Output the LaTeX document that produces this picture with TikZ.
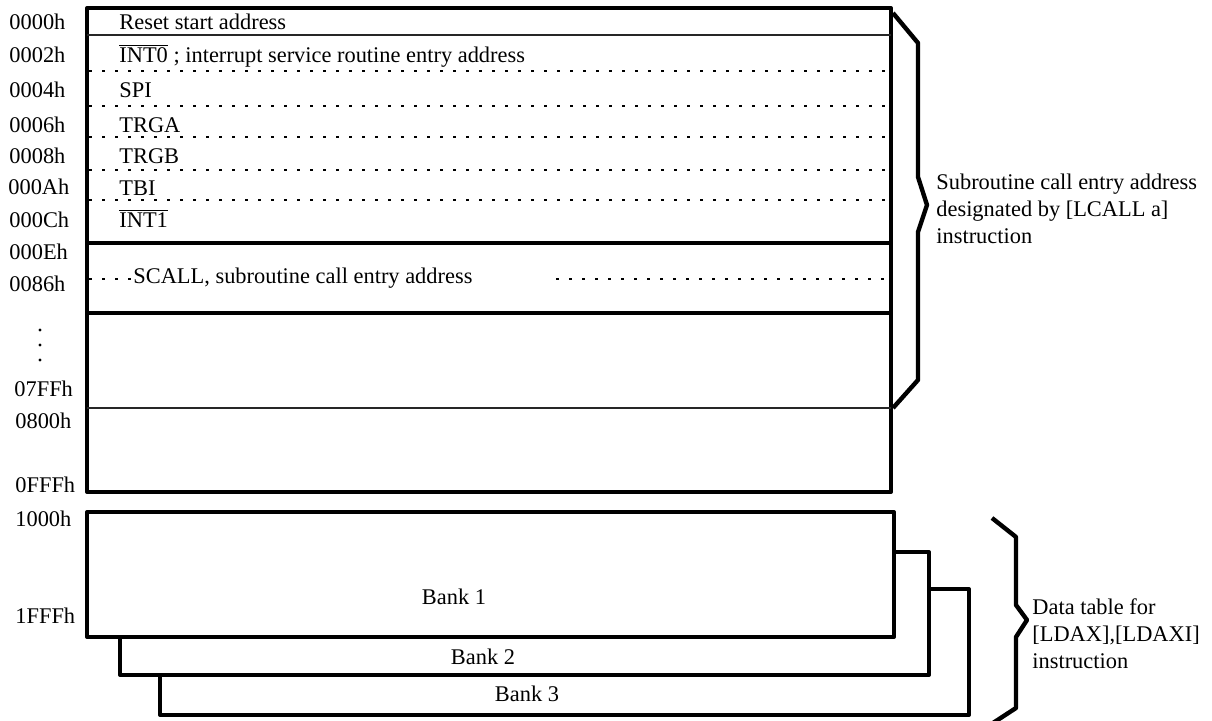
\documentclass[tikz,border=0pt]{standalone}
\usepackage{fontspec}
\setmainfont{Liberation Serif}
\usepackage{tikz}
\usetikzlibrary{positioning}
\tikzstyle{addr}=[anchor=base west, inner sep=0, text=black]
\tikzstyle{entry}=[anchor=base west, inner sep=0, text=black]
\tikzstyle{banklabel}=[anchor=base, inner sep=0, text=black]
\tikzstyle{bank}=[draw=black, line width=2pt, fill=white, line join=round]
\tikzstyle{frame}=[draw=black, line width=2pt, line join=round]
\tikzstyle{sep}=[line width=1.8pt]
\tikzstyle{thinsep}=[line width=1.3pt, draw=black!85]
\tikzstyle{dotsep}=[line width=1.3pt, dash pattern=on 1.3pt off 5.2pt]
\tikzstyle{brace}=[line width=2.2pt, line join=round]

\begin{document}
\begin{tikzpicture}[x=0.5pt, y=-0.5pt, every node/.style={font=\fontsize{11.2}{13.5}\selectfont}]

    \useasboundingbox (0,0) rectangle (1212,721);

    % banks, back to front
    \draw[bank] (160,589) rectangle (969,715);
    \draw[bank] (120,552) rectangle (929,675);
    \draw[bank] (87,512) rectangle (894,637);
    \node(bank1)[banklabel] at (454,605) {Bank 1};
    \node(bank2)[banklabel] at (483,665) {Bank 2};
    \node(bank3)[banklabel] at (527,702) {Bank 3};

    % program memory
    \coordinate (memTL) at (87,8);
    \coordinate (memBR) at (891,492);
    \draw[frame] (memTL) rectangle (memBR);
    \draw[thinsep] (87,35) -- (891,35);
    \foreach \y in {71,106,137,170,200}{
        \draw[dotsep] (89,\y) -- (890,\y);
    };
    \draw[sep] (87,243) -- (891,243);
    \draw[sep] (87,313) -- (891,313);
    \draw[thinsep] (87,408) -- (891,408);
    \draw[dotsep] (89,279) -- (131,279);
    \draw[dotsep] (556,279) -- (890,279);

    \foreach \lbl/\x/\y in {0000h/9/30, 0002h/9/63, 0004h/9/98, 0006h/9/133, 0008h/9/164,
        000Ah/8/195, 000Ch/9/228, 000Eh/9/260, 0086h/9/292, 07FFh/14/397, 0800h/15/429,
        0FFFh/15/493, 1000h/15/527, 1FFFh/15/624}{
        \node(a\lbl)[addr] at (\x,\y) {\lbl};
    };
    \foreach \y in {330,345,360}{
        \fill (40,\y) circle (0.8pt);
    };

    \node(reset)[entry] at (119,30) {Reset start address};
    \node(int0)[entry] at (119,63) {$\overline{\mbox{INT0}}$ ; interrupt service routine entry address};
    \node(spi)[entry] at (119,98) {SPI};
    \node(trga)[entry] at (119,133) {TRGA};
    \node(trgb)[entry] at (119,164) {TRGB};
    \node(tbi)[entry] at (119,196) {TBI};
    \node(int1)[entry] at (119,228) {$\overline{\mbox{INT1}}$};
    \node(scall)[entry] at (133,284) {SCALL, subroutine call entry address};

    % braces and notes
    \draw[brace] (893,13) -- (918,43) -- (918,177) -- (927,205) -- (918,232) -- (918,380) -- (893,408);
    \node(lcall1)[entry] at (936,190) {Subroutine call entry address};
    \node(lcall2)[entry] at (936,217) {designated by [LCALL a]};
    \node(lcall3)[entry] at (936,244) {instruction};

    \draw[brace] (992,518) -- (1016,537) -- (1016,605) -- (1027,620) -- (1016,637) -- (1016,708) -- (993,723);
    \node(ldax1)[entry] at (1032,615) {Data table for};
    \node(ldax2)[entry] at (1032,642) {[LDAX],[LDAXI]};
    \node(ldax3)[entry] at (1032,669) {instruction};

\end{tikzpicture}
\end{document}
